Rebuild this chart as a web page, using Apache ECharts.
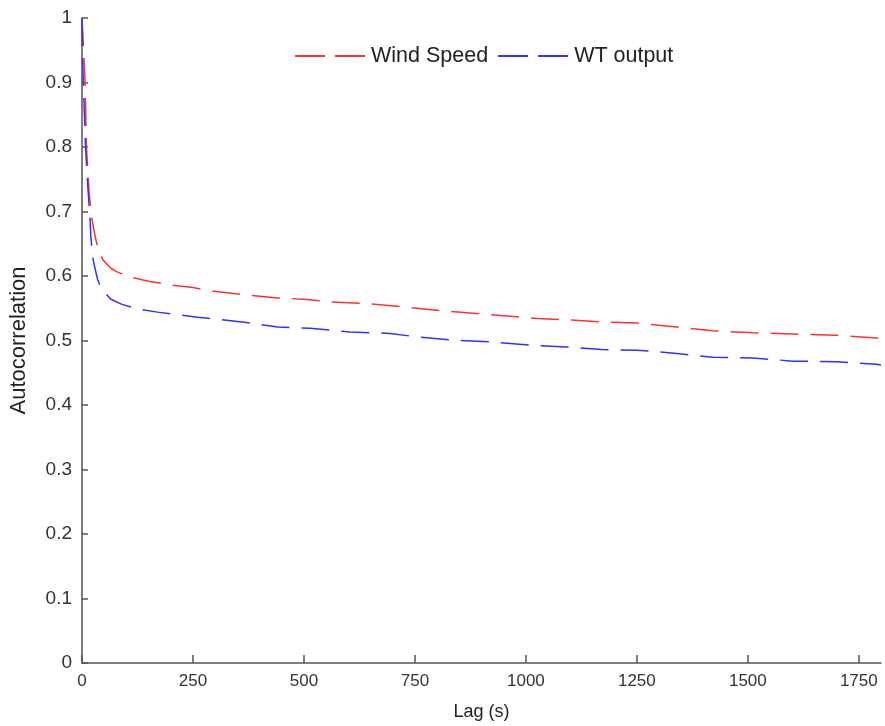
<!DOCTYPE html>
<html>
<head>
<meta charset="utf-8">
<script src="https://cdn.jsdelivr.net/npm/echarts@6/dist/echarts.min.js"></script>
<style>
html,body{margin:0;padding:0;background:#fff;}
#chart{width:885px;height:726px;}
</style>
</head>
<body>
<div id="chart"></div>
<script>
// Lag (s) and autocorrelation values
var windLag = [0, 3, 7, 10, 16, 22, 30, 36, 47, 65, 80, 110, 150, 200, 250, 290, 350, 441, 500, 559, 649, 739, 829, 919, 1025, 1092, 1170, 1250, 1340, 1421, 1511, 1601, 1700, 1790, 1800];
var windSpeed = [1.0, 0.96, 0.90, 0.80, 0.73, 0.69, 0.660, 0.643, 0.625, 0.612, 0.606, 0.598, 0.592, 0.586, 0.582, 0.577, 0.572, 0.566, 0.564, 0.560, 0.557, 0.551, 0.545, 0.540, 0.534, 0.532, 0.529, 0.527, 0.521, 0.515, 0.512, 0.510, 0.508, 0.504, 0.503];

var wtLag = [0, 1, 2, 5, 8, 13, 18, 20, 25, 35, 43, 65, 90, 126, 170, 216, 260, 306, 370, 441, 514, 604, 694, 750, 829, 919, 1025, 1092, 1170, 1250, 1340, 1421, 1511, 1601, 1700, 1790, 1800];
var wtOutput = [1.0, 0.95, 0.92, 0.86, 0.80, 0.74, 0.69, 0.66, 0.625, 0.595, 0.581, 0.564, 0.556, 0.549, 0.544, 0.540, 0.536, 0.533, 0.528, 0.521, 0.519, 0.513, 0.511, 0.506, 0.501, 0.498, 0.492, 0.490, 0.486, 0.485, 0.480, 0.474, 0.473, 0.468, 0.467, 0.463, 0.462];

var seriesNames = ['Wind Speed', 'WT output'];
var seriesColors = ['#ff3030', '#3030ff'];
var xTicks = [0, 250, 500, 750, 1000, 1250, 1500, 1750];
var yTicks = [0, 0.1, 0.2, 0.3, 0.4, 0.5, 0.6, 0.7, 0.8, 0.9, 1];

function pairs(xs, ys) {
  return xs.map(function (x, i) { return [x, ys[i]]; });
}

var dashIcon = 'path://M0,0 L30,0 L30,2 L0,2 Z M40,0 L70,0 L70,2 L40,2 Z';

var chart = echarts.init(document.getElementById('chart'), null, {renderer: 'canvas'});
var axisColor = '#555';
chart.setOption({
  animation: false,
  backgroundColor: '#fff',
  grid: {left: 82, right: 4, top: 18, bottom: 63, containLabel: false, outerBoundsMode: 'none'},
  legend: {
    left: 290,
    top: 40,
    itemWidth: 70,
    itemHeight: 2,
    itemGap: 10,
    textStyle: {fontFamily: 'Liberation Sans, Arial, sans-serif', fontSize: 21.5, color: '#222', padding: [0, 0, 0, 1]},
    data: [
      {name: seriesNames[0], icon: dashIcon, itemStyle: {color: seriesColors[0]}},
      {name: seriesNames[1], icon: dashIcon, itemStyle: {color: seriesColors[1]}}
    ]
  },
  xAxis: {
    type: 'value',
    min: 0,
    max: 1800,
    interval: 250,
    name: 'Lag (s)',
    nameLocation: 'middle',
    nameGap: 40,
    nameTextStyle: {fontFamily: 'Liberation Sans Narrow, Arial Narrow, sans-serif', fontSize: 18, color: '#222'},
    axisLine: {show: true, lineStyle: {color: axisColor, width: 1.5}},
    axisTick: {show: true, inside: true, length: 8, lineStyle: {color: axisColor, width: 1.5}},
    splitLine: {show: false},
    axisLabel: {
      showMaxLabel: false,
      margin: 10,
      fontFamily: 'Liberation Sans Narrow, Arial Narrow, sans-serif',
      fontSize: 17,
      color: '#333',
      formatter: function (v) { return xTicks.indexOf(v) >= 0 ? String(v) : ''; }
    }
  },
  yAxis: {
    type: 'value',
    min: 0,
    max: 1,
    interval: 0.1,
    name: 'Autocorrelation',
    nameLocation: 'middle',
    nameGap: 52,
    nameRotate: 90,
    nameTextStyle: {fontFamily: 'Liberation Sans, Arial, sans-serif', fontSize: 22, color: '#222'},
    axisLine: {show: true, lineStyle: {color: axisColor, width: 1.5}},
    axisTick: {show: true, inside: true, length: 6, lineStyle: {color: axisColor, width: 1.5}},
    splitLine: {show: false},
    axisLabel: {
      margin: 10,
      fontFamily: 'Liberation Sans, Arial, sans-serif',
      fontSize: 19,
      color: '#333',
      formatter: function (v) {
        var r = Math.round(v * 10) / 10;
        return yTicks.indexOf(r) >= 0 ? String(r) : '';
      }
    }
  },
  series: [
    {
      name: seriesNames[0],
      type: 'line',
      data: pairs(windLag, windSpeed),
      showSymbol: false,
      symbol: 'none',
      z: 2,
      lineStyle: {color: seriesColors[0], width: 1.5, type: [28, 12]},
      itemStyle: {color: seriesColors[0]}
    },
    {
      name: seriesNames[1],
      type: 'line',
      data: pairs(wtLag, wtOutput),
      showSymbol: false,
      symbol: 'none',
      z: 3,
      lineStyle: {color: seriesColors[1], width: 1.5, type: [28, 12]},
      itemStyle: {color: seriesColors[1]}
    }
  ]
});
</script>
</body>
</html>
